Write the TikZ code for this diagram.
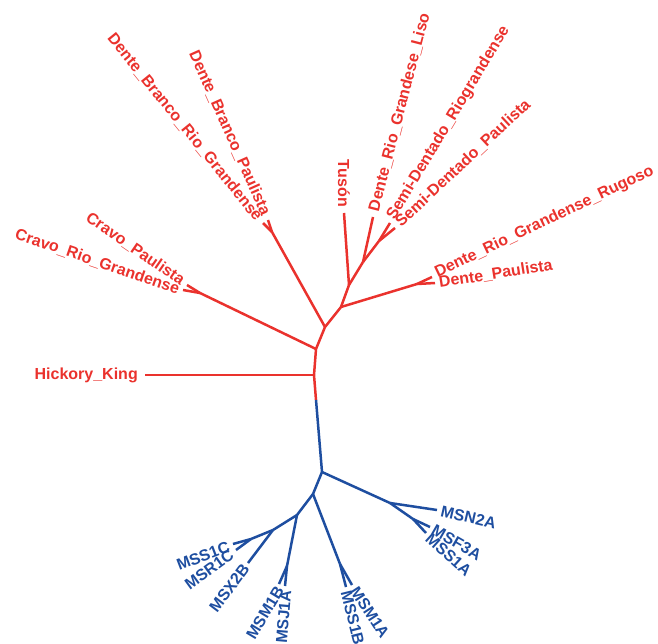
\documentclass[tikz,border=0pt]{standalone}
\usepackage{fontspec}
\setmainfont{Liberation Sans}
\usetikzlibrary{calc}
\definecolor{treered}{RGB}{234,50,45}
\definecolor{treeblue}{RGB}{30,78,160}
\tikzset{
  redbranch/.style={draw=treered, line width=2.5pt},
  bluebranch/.style={draw=treeblue, line width=2.5pt},
  taxon/.style={inner sep=0pt, font=\fontsize{16}{19}\selectfont\bfseries},
  redtaxon/.style={taxon, text=treered},
  bluetaxon/.style={taxon, text=treeblue},
}

\begin{document}
\begin{tikzpicture}[x=1pt,y=1pt]
  \useasboundingbox (0,0) rectangle (658,-644);
  % inner nodes, red part
  \coordinate (H) at (314,-375);
  \coordinate (S) at (316,-400);
  \coordinate (R1) at (316,-349);
  \coordinate (R2) at (325,-327);
  \coordinate (R3) at (341,-307);
  \coordinate (R4) at (349,-285);
  \coordinate (R5) at (363,-262);
  \coordinate (Cj) at (200,-293);
  \coordinate (DBj) at (272,-232);
  \coordinate (DPj) at (417,-284);
  \coordinate (Sj) at (379,-241);
  % red tips
  \coordinate (HK) at (145,-375);
  \coordinate (CP) at (187,-285);
  \coordinate (CRG) at (183,-290);
  \coordinate (DBRG) at (263,-223);
  \coordinate (DBP) at (268,-220);
  \coordinate (Tus) at (344,-213);
  \coordinate (DRGL) at (373,-217);
  \coordinate (SDR) at (390,-223);
  \coordinate (SDP) at (395,-228);
  \coordinate (DRGR) at (432,-277);
  \coordinate (DP) at (435,-283);
  % inner nodes, blue part
  \coordinate (B1) at (322,-472);
  \coordinate (J1) at (390,-503);
  \coordinate (J2) at (413,-519);
  \coordinate (B2) at (313,-494);
  \coordinate (MAj) at (340,-564);
  \coordinate (B3) at (297,-515);
  \coordinate (MBj) at (287,-566);
  \coordinate (B4) at (273,-530);
  \coordinate (Ej) at (251,-539);
  % blue tips
  \coordinate (N2A) at (437,-510);
  \coordinate (F3A) at (430,-527);
  \coordinate (S1A) at (426,-533);
  \coordinate (M1A) at (352,-585);
  \coordinate (S1B) at (346,-587);
  \coordinate (M1B) at (279,-584);
  \coordinate (J1A) at (285,-586);
  \coordinate (X2B) at (248,-563);
  \coordinate (S1C) at (233,-544);
  \coordinate (R1C) at (236,-550);

  % branches
  \draw[redbranch] (S)--(H)--(R1)--(R2)--(R3)--(R4)--(R5);
  \draw[redbranch] (H)--(HK);
  \draw[redbranch] (R1)--(Cj);
  \draw[redbranch] (Cj)--(CP);
  \draw[redbranch] (Cj)--(CRG);
  \draw[redbranch] (R2)--(DBj);
  \draw[redbranch] (DBj)--(DBRG);
  \draw[redbranch] (DBj)--(DBP);
  \draw[redbranch] (R3)--(DPj);
  \draw[redbranch] (DPj)--(DRGR);
  \draw[redbranch] (DPj)--(DP);
  \draw[redbranch] (R4)--(Tus);
  \draw[redbranch] (R5)--(DRGL);
  \draw[redbranch] (R5)--(Sj);
  \draw[redbranch] (Sj)--(SDR);
  \draw[redbranch] (Sj)--(SDP);
  \draw[bluebranch] (S)--(B1)--(B2)--(B3)--(B4);
  \draw[bluebranch] (B1)--(J1);
  \draw[bluebranch] (J1)--(N2A);
  \draw[bluebranch] (J1)--(J2);
  \draw[bluebranch] (J2)--(F3A);
  \draw[bluebranch] (J2)--(S1A);
  \draw[bluebranch] (B2)--(MAj);
  \draw[bluebranch] (MAj)--(M1A);
  \draw[bluebranch] (MAj)--(S1B);
  \draw[bluebranch] (B3)--(MBj);
  \draw[bluebranch] (MBj)--(M1B);
  \draw[bluebranch] (MBj)--(J1A);
  \draw[bluebranch] (B4)--(X2B);
  \draw[bluebranch] (B4)--(Ej);
  \draw[bluebranch] (Ej)--(S1C);
  \draw[bluebranch] (Ej)--(R1C);

  % taxa
  \node[redtaxon, anchor=east] (lHK) at (138,-375) {Hickory\_King};
  \node[redtaxon, anchor=east, rotate=-34.6] (lCP) at (183,-282) {Cravo\_Paulista};
  \node[redtaxon, anchor=east, rotate=-19] (lCRG) at (179,-290) {Cravo\_Rio\_Grandense};
  \node[redtaxon, anchor=east, rotate=-51] (lDBRG) at (259,-219) {Dente\_Branco\_Rio\_Grandense};
  \node[redtaxon, anchor=east, rotate=-66] (lDBP) at (266,-215) {Dente\_Branco\_Paulista};
  \node[redtaxon, anchor=east, rotate=-90] (lTus) at (344,-207) {Tusón};
  \node[redtaxon, anchor=west, rotate=75.5] (lDRGL) at (374,-211) {Dente\_Rio\_Grandese\_Liso};
  \node[redtaxon, anchor=west, rotate=59] (lSDR) at (391,-219) {Semi-Dentado\_Riograndense};
  \node[redtaxon, anchor=west, rotate=43] (lSDP) at (398,-224) {Semi-Dentado\_Paulista};
  \node[redtaxon, anchor=west, rotate=25.5] (lDRGR) at (436,-274) {Dente\_Rio\_Grandense\_Rugoso};
  \node[redtaxon, anchor=west, rotate=9] (lDP) at (439,-283) {Dente\_Paulista};
  \node[bluetaxon, anchor=west, rotate=-13] (lN2A) at (441,-511) {MSN2A};
  \node[bluetaxon, anchor=west, rotate=-30] (lF3A) at (433,-529) {MSF3A};
  \node[bluetaxon, anchor=west, rotate=-42] (lS1A) at (428,-536) {MSS1A};
  \node[bluetaxon, anchor=west, rotate=-57] (lM1A) at (354,-588) {MSM1A};
  \node[bluetaxon, anchor=west, rotate=-76] (lS1B) at (346,-591) {MSS1B};
  \node[bluetaxon, anchor=east, rotate=59] (lM1B) at (280,-588) {MSM1B};
  \node[bluetaxon, anchor=east, rotate=85] (lJ1A) at (286,-590) {MSJ1A};
  \node[bluetaxon, anchor=east, rotate=53] (lX2B) at (246,-566) {MSX2B};
  \node[bluetaxon, anchor=east, rotate=36] (lR1C) at (232,-553) {MSR1C};
  \node[bluetaxon, anchor=east, rotate=21] (lS1C) at (229,-546) {MSS1C};
\end{tikzpicture}
\end{document}
